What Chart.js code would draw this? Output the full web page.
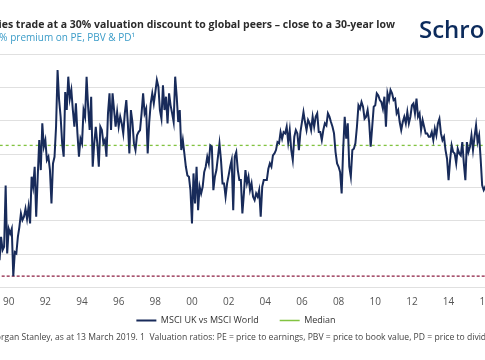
<!DOCTYPE html>
<html><head><meta charset="utf-8">
<script src="https://cdn.jsdelivr.net/npm/chart.js@4.4.1/dist/chart.umd.min.js"></script>
<style>
html,body{margin:0;padding:0;width:485px;height:360px;overflow:hidden;background:#fff;font-family:'Open Sans',sans-serif;}
#wrap{position:relative;width:485px;height:360px;overflow:hidden;}
#cv{position:absolute;left:-88px;top:0;}
.t{position:absolute;white-space:nowrap;line-height:1;}
</style></head><body>
<div id="wrap">
<canvas id="cv" width="648" height="335"></canvas>
<div class="t" id="title" style="right:90px;top:19px;font-weight:700;font-size:10.5px;color:#2b2b2b">UK equities trade at a 30% valuation discount to global peers – close to a 30-year low</div>
<div class="t" id="sub" style="right:350px;top:32px;font-size:10px;color:#3b9cc8">UK vs world: average % premium on PE, PBV &amp; PD¹</div>
<div class="t" id="logo" style="left:419px;top:17px;font-size:24px;font-weight:600;color:#0c2b5c">Schroders</div>
<div class="t" id="foot" style="left:1px;top:332.5px;font-size:8.6px;color:#444"><span style="position:absolute;right:100%">Source: Mo</span>rgan Stanley, as at 13 March 2019. 1&nbsp; Valuation ratios: PE = price to earnings, PBV = price to book value, PD = price to dividends.</div>
</div>
<script>
const dates = [
"1989-06","1989-07","1989-08","1989-09","1989-10","1989-11","1989-12",
"1990-01","1990-02","1990-03","1990-04","1990-05","1990-06","1990-07","1990-08","1990-09","1990-10","1990-11","1990-12",
"1991-01","1991-02","1991-03","1991-04","1991-05","1991-06","1991-07","1991-08","1991-09","1991-10","1991-11","1991-12",
"1992-01","1992-02","1992-03","1992-04","1992-05","1992-06","1992-07","1992-08","1992-09","1992-10","1992-11","1992-12",
"1993-01","1993-02","1993-03","1993-04","1993-05","1993-06","1993-07","1993-08","1993-09","1993-10","1993-11","1993-12",
"1994-01","1994-02","1994-03","1994-04","1994-05","1994-06","1994-07","1994-08","1994-09","1994-10","1994-11","1994-12",
"1995-01","1995-02","1995-03","1995-04","1995-05","1995-06","1995-07","1995-08","1995-09","1995-10","1995-11","1995-12",
"1996-01","1996-02","1996-03","1996-04","1996-05","1996-06","1996-07","1996-08","1996-09","1996-10","1996-11","1996-12",
"1997-01","1997-02","1997-03","1997-04","1997-05","1997-06","1997-07","1997-08","1997-09","1997-10","1997-11","1997-12",
"1998-01","1998-02","1998-03","1998-04","1998-05","1998-06","1998-07","1998-08","1998-09","1998-10","1998-11","1998-12",
"1999-01","1999-02","1999-03","1999-04","1999-05","1999-06","1999-07","1999-08","1999-09","1999-10","1999-11","1999-12",
"2000-01","2000-02","2000-03","2000-04","2000-05","2000-06","2000-07","2000-08","2000-09","2000-10","2000-11","2000-12",
"2001-01","2001-02","2001-03","2001-04","2001-05","2001-06","2001-07","2001-08","2001-09","2001-10","2001-11","2001-12",
"2002-01","2002-02","2002-03","2002-04","2002-05","2002-06","2002-07","2002-08","2002-09","2002-10","2002-11","2002-12",
"2003-01","2003-02","2003-03","2003-04","2003-05","2003-06","2003-07","2003-08","2003-09","2003-10","2003-11","2003-12",
"2004-01","2004-02","2004-03","2004-04","2004-05","2004-06","2004-07","2004-08","2004-09","2004-10","2004-11","2004-12",
"2005-01","2005-02","2005-03","2005-04","2005-05","2005-06","2005-07","2005-08","2005-09","2005-10","2005-11","2005-12",
"2006-01","2006-02","2006-03","2006-04","2006-05","2006-06","2006-07","2006-08","2006-09","2006-10","2006-11","2006-12",
"2007-01","2007-02","2007-03","2007-04","2007-05","2007-06","2007-07","2007-08","2007-09","2007-10","2007-11","2007-12",
"2008-01","2008-02","2008-03","2008-04","2008-05","2008-06","2008-07","2008-08","2008-09","2008-10","2008-11","2008-12",
"2009-01","2009-02","2009-03","2009-04","2009-05","2009-06","2009-07","2009-08","2009-09","2009-10","2009-11","2009-12",
"2010-01","2010-02","2010-03","2010-04","2010-05","2010-06","2010-07","2010-08","2010-09","2010-10","2010-11","2010-12",
"2011-01","2011-02","2011-03","2011-04","2011-05","2011-06","2011-07","2011-08","2011-09","2011-10","2011-11","2011-12",
"2012-01","2012-02","2012-03","2012-04","2012-05","2012-06","2012-07","2012-08","2012-09","2012-10","2012-11","2012-12",
"2013-01","2013-02","2013-03","2013-04","2013-05","2013-06","2013-07","2013-08","2013-09","2013-10","2013-11","2013-12",
"2014-01","2014-02","2014-03","2014-04","2014-05","2014-06","2014-07","2014-08","2014-09","2014-10","2014-11","2014-12",
"2015-01","2015-02","2015-03","2015-04","2015-05","2015-06","2015-07","2015-08","2015-09","2015-10","2015-11","2015-12",
"2016-01","2016-04","2016-07","2016-10","2017-01","2017-04","2017-07","2017-10",
"2018-01","2018-04","2018-07","2018-10","2019-01","2019-03"
];
const ukVsWorld = [
-26.9,-30.9,-27.4,-29.4,-28.9,-19.7,-29.9,
-26.2,-26.9,-26.2,-33.3,-29.7,-29.9,-27.4,-25.9,-23.9,-24.9,-24.4,-23.2,
-24.7,-22.9,-25.4,-18.4,-19.9,-16.9,-24.4,-18.4,-12.9,-17.4,-10.4,-13.9,
-12.9,-15.9,-15.4,-17.4,-22.4,-16.4,-15.4,-10.9,-2.4,-6.9,-9.4,-13.4,
-15.4,-5.7,-8.4,-3.4,-6.7,-5.4,-8.4,-10.9,-7.4,-11.9,-15.4,-12.7,
-13.4,-8.4,-9.4,-3.4,-7.9,-11.4,-6.4,-16.9,-13.4,-10.9,-13.4,-16.9,
-10.9,-11.4,-13.4,-12.9,-15.4,-8.9,-5.9,-11.4,-5.9,-8.4,-10.9,-8.7,
-10.9,-9.4,-10.4,-11.9,-8.9,-6.9,-10.4,-14.9,-8.4,-10.2,-13.4,-14.4,
-12.2,-11.7,-11.4,-8.9,-5.9,-8.9,-8.2,-14.9,-10.2,-7.4,-5.9,-7.4,
-5.7,-3.9,-4.9,-8.4,-9.7,-4.7,-8.4,-6.4,-10.4,-5.9,-7.7,-8.9,
-10.2,-3.4,-6.4,-10.2,-8.4,-14.4,-12.9,-14.9,-16.9,-18.2,-18.4,-20.4,
-25.4,-17.9,-22.4,-16.9,-23.4,-19.9,-20.9,-19.9,-17.7,-16.9,-15.4,-16.4,
-13.7,-13.9,-20.4,-18.4,-17.4,-15.4,-13.4,-15.9,-19.4,-19.4,-21.4,-19.4,
-18.2,-16.9,-15.9,-23.4,-15.4,-14.7,-17.4,-18.9,-18.9,-23.9,-20.9,-17.4,
-19.4,-18.4,-20.4,-19.4,-21.4,-21.9,-20.9,-21.4,-20.4,-24.4,-19.9,-18.9,
-18.9,-18.9,-17.2,-16.4,-16.9,-15.2,-14.9,-14.4,-13.2,-13.4,-11.7,-12.7,
-11.7,-11.9,-10.9,-13.2,-11.4,-14.4,-15.9,-12.4,-11.4,-11.9,-14.4,-11.7,
-10.2,-8.7,-10.2,-11.4,-9.9,-10.4,-11.4,-9.4,-10.9,-9.4,-8.9,-11.7,
-11.7,-12.9,-11.4,-10.4,-10.7,-8.9,-9.4,-10.2,-10.9,-11.9,-14.7,-16.4,
-16.9,-17.7,-20.9,-14.2,-9.4,-12.7,-10.4,-16.9,-18.4,-14.4,-14.2,-13.4,
-10.9,-7.7,-8.2,-7.2,-7.9,-9.7,-9.4,-8.4,-10.2,-13.9,-10.9,-7.9,
-7.7,-5.9,-6.2,-6.9,-7.2,-8.2,-6.4,-10.9,-5.9,-6.9,-5.4,-5.9,
-6.9,-6.7,-8.9,-8.4,-10.2,-11.4,-10.2,-9.4,-10.4,-8.7,-10.4,-9.4,
-7.7,-7.4,-8.9,-6.7,-9.4,-8.9,-11.4,-9.9,-10.9,-11.9,-11.9,-12.4,
-12.4,-11.7,-12.9,-11.2,-12.2,-10.4,-9.7,-11.9,-12.9,-12.4,-14.4,-15.7,
-18.9,-15.9,-13.7,-14.7,-14.9,-16.4,-14.2,-14.9,-15.2,-13.2,-16.4,-18.9,
-13.2,-14.7,-13.9,-12.2,-14.4,-12.4,-10.7,-13.2,-12.2,-15.7,-19.7,-20.4,
-19.9,-21.0,-24.0,-22.5,-24.0,-23.0,-25.0,-26.0,
-27.0,-26.0,-28.0,-29.0,-30.0,-30.5
];
const medianValue = -13.7;
const thirtyYearLow = -33.3;
const tickYears = [1990,1992,1994,1996,1998,2000,2002,2004,2006,2008,2010,2012,2014,2016,2018];
const tickLabels = ['90','92','94','96','98','00','02','04','06','08','10','12','14','16','18'];
const seriesNames = ['MSCI UK vs MSCI World','Median','30-year low'];

const xMin = 1989.525, xMax = 2020.08;
const toYear = d => +d.slice(0,4) + (+d.slice(5,7) - 1) / 12;

new Chart(document.getElementById('cv'), {
  type: 'line',
  data: { datasets: [
    { label: seriesNames[0], data: dates.map((d,i)=>({x:toYear(d), y:ukVsWorld[i]})),
      borderColor:'#182b5a', borderWidth:2, pointRadius:0, pointStyle:'line', tension:0, order:0 },
    { label: seriesNames[1], data:[{x:xMin-1,y:medianValue},{x:xMax+1,y:medianValue}],
      borderColor:'#82c341', borderWidth:1.3, borderDash:[3,3], pointRadius:0, pointStyle:'line', order:1 },
    { label: seriesNames[2], data:[{x:xMin-1,y:thirtyYearLow},{x:xMax+1,y:thirtyYearLow}],
      borderColor:'#8c1d40', borderWidth:1.3, borderDash:[3,2], pointRadius:0, pointStyle:'line', order:2 }
  ]},
  options: {
    responsive:false, animation:false,
    layout:{ padding:{ top:54, left:0, right:0, bottom:0 } },
    scales:{
      x:{ type:'linear', min:xMin, max:xMax,
        grid:{display:false, drawTicks:false}, border:{display:false},
        afterBuildTicks: a => { a.ticks = tickYears.map(v => ({value:v})); },
        afterFit: a => { a.height = 21; },
        ticks:{ autoSkip:false, maxRotation:0, padding:9, color:'#555',
          font:{family:'Open Sans', size:10}, callback:(v,i)=>tickLabels[i] } },
      y:{ min:-35, max:0, afterFit: a => { a.width = 88; },
        ticks:{ display:false, stepSize:5 },
        grid:{ color:'#e0e0e0', drawTicks:false, lineWidth:1 }, border:{display:false} }
    },
    plugins:{
      legend:{ position:'bottom',
        labels:{ usePointStyle:true, pointStyleWidth:20, padding:7.5, color:'#333',
          font:{family:'Open Sans', size:9},
          generateLabels: ch => Chart.defaults.plugins.legend.labels.generateLabels(ch)
            .filter(it => it.datasetIndex < 2)
            .map(it => { if (it.datasetIndex === 0) it.text = it.text + '\u2002\u2002\u2002'; return it; })
        } },
      tooltip:{ enabled:false }
    }
  }
});
</script>
</body></html>
